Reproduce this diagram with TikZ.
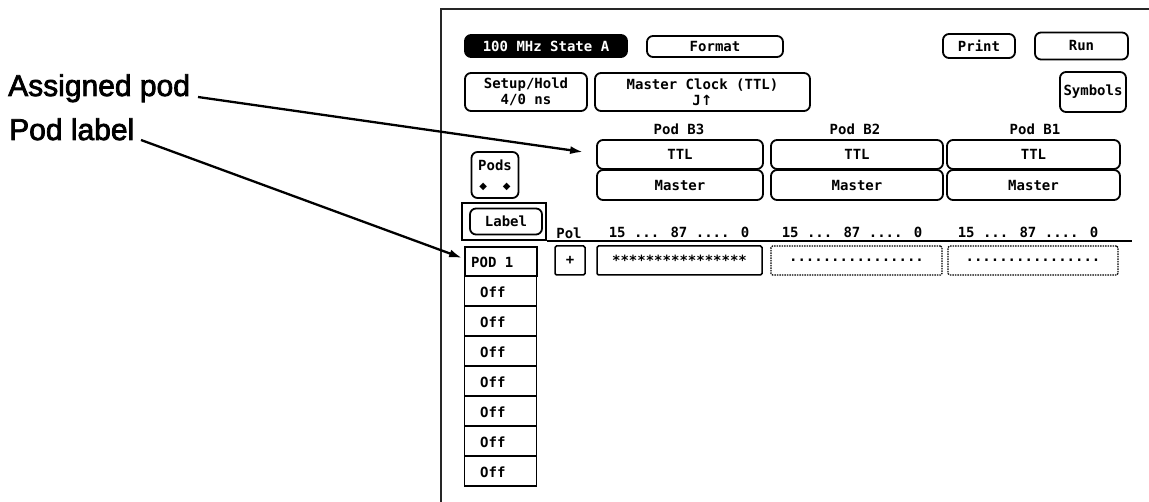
\documentclass[tikz,border=0pt]{standalone}
\usepackage{fontspec}
\setmainfont{Liberation Sans}
\newfontfamily\callfont[FakeBold=2.5]{Liberation Sans}
\newfontfamily\scrfont{DejaVu Sans Mono}
\newfontfamily\symfont{DejaVu Sans}
\usetikzlibrary{arrows.meta}
\begin{document}
\begin{tikzpicture}[x=1pt,y=-1pt,
  scr/.style={font=\scrfont\bfseries\fontsize{14}{16}\selectfont},
  btn/.style={draw, line width=1.8pt, rounded corners=6pt, inner sep=0pt, align=center, scr},
  sbox/.style={draw, line width=1.5pt, rounded corners=1.5pt, inner sep=0pt, scr},
  cell/.style={draw, line width=1.7pt, inner sep=0pt, minimum width=72pt, minimum height=30pt},
  celltext/.style={anchor=west, scr, inner sep=0pt},
  hdr/.style={scr, inner sep=0pt},
  callout/.style={font=\callfont\fontsize{30}{34}\selectfont, anchor=base west, inner sep=0pt},
  arr/.style={line width=2.3pt, -{Latex[length=13pt,width=8pt]}},
  frame/.style={line width=2.2pt, black!85}
]
\useasboundingbox (0,0) rectangle (1149,502);
% screen frame
\draw[frame] (441,502) -- (441,9) -- (1149,9);

% top buttons
\node[btn, fill=black, text=white, minimum width=162pt, minimum height=22pt] (state) at (546,46) {100 MHz State A};
\node[btn, minimum width=136pt, minimum height=21pt] (format) at (715,46.5) {Format};
\node[btn, minimum width=72pt, minimum height=24pt] (print) at (979,46) {Print};
\node[btn, minimum width=93pt, minimum height=27pt] (run) at (1081.5,46) {Run};

\node[btn, minimum width=122pt, minimum height=38pt] (setup) at (526,92) {Setup/Hold\\4/0 ns};
\node[btn, minimum width=215pt, minimum height=38pt] (mclock) at (702.5,92) {Master Clock (TTL)\\J{\symfont\bfseries↑}};
\node[btn, minimum width=66pt, minimum height=40pt] (symbols) at (1093,92) {Symbols};

% pod headers
\node[hdr] (b3lab) at (679,129) {Pod B3};
\node[hdr] (b2lab) at (855,129) {Pod B2};
\node[hdr] (b1lab) at (1035,129) {Pod B1};

\node[btn, minimum width=166pt, minimum height=29pt] (b3ttl) at (680,154.5) {TTL};
\node[btn, minimum width=166pt, minimum height=30pt] (b3mst) at (680,185) {Master};
\node[btn, minimum width=172pt, minimum height=29pt] (b2ttl) at (857,154.5) {TTL};
\node[btn, minimum width=172pt, minimum height=30pt] (b2mst) at (857,185) {Master};
\node[btn, minimum width=173pt, minimum height=29pt] (b1ttl) at (1033.5,154.5) {TTL};
\node[btn, minimum width=173pt, minimum height=30pt] (b1mst) at (1033.5,185) {Master};

% pods scroll box
\node[btn, minimum width=47pt, minimum height=46pt] (pods) at (495,175) {Pods\\[3pt]{\symfont\fontsize{10}{11}\selectfont ◆\hspace{16pt}◆}};

% label box
\node[draw, line width=2.4pt, minimum width=84pt, minimum height=37pt, inner sep=0pt] (labframe) at (504,221.5) {};
\node[btn, minimum width=72pt, minimum height=26pt] (labbtn) at (506,221.5) {Label};

% column headers
\node[hdr] (pol) at (569,233) {Pol};
\node[hdr] (h3) at (679,232) {15 ... 87 .... 0};
\node[hdr] (h2) at (852,232) {15 ... 87 .... 0};
\node[hdr] (h1) at (1028,232) {15 ... 87 .... 0};
\coordinate (hl0) at (547,241);
\coordinate (hl1) at (1132,241);
\draw[line width=1.6pt] (hl0) -- (hl1);

% data row
\node[sbox, minimum width=30pt, minimum height=29pt] (plus) at (570,260.5) {+};
\node[sbox, minimum width=165pt, minimum height=29pt] (d3) at (679.5,260.5) {****************};
\node[sbox, minimum width=171pt, minimum height=29pt, densely dotted, line width=1.3pt] (d2) at (856.5,260.5) {................};
\node[sbox, minimum width=170pt, minimum height=29pt, densely dotted, line width=1.3pt] (d1) at (1033,260.5) {................};

% label column
\node[cell, minimum height=29pt] (pod1) at (501,261.5) {};
\node[celltext] (pod1t) at (471,262) {POD 1};
\foreach \i in {0,...,6} {
  \node[cell] (off\i) at (500.5,{291+30*\i}) {};
  \node[celltext] (off\i t) at (480,{292+30*\i}) {Off};
}

% callouts
\node[callout] (asg) at (8,96) {Assigned pod};
\node[callout] (podl) at (9,140) {Pod label};
\coordinate (asgstart) at (198,97);
\coordinate (podlstart) at (141,140);
\draw[arr] (asgstart) -- ([xshift=-13pt,yshift=2.5pt]b3ttl.west);
\draw[arr] (podlstart) -- ([xshift=-2pt,yshift=3.5pt]pod1.west);
\end{tikzpicture}
\end{document}
